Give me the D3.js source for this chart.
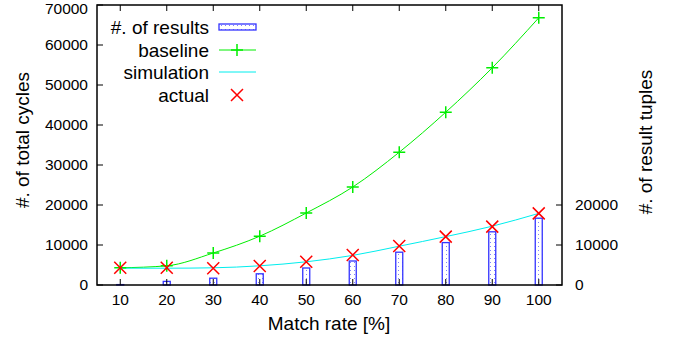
<!DOCTYPE html>
<html>
<head>
<meta charset="utf-8">
<script src="https://cdn.jsdelivr.net/npm/d3@7"></script>
<style>
  body { margin: 0; background: #fff; }
  text { font-family: "Liberation Sans", Arial, sans-serif; fill: #000; }
</style>
</head>
<body>
<div id="vis"></div>
<script>
// data
const matchRates = [10, 20, 30, 40, 50, 60, 70, 80, 90, 100];
const baseline   = [4300, 4800, 8000, 12200, 18000, 24500, 33200, 43200, 54300, 66800];
const simulation = [4200, 4200, 4300, 4800, 5800, 7400, 9700, 12100, 14700, 17900];
const actual     = [4300, 4300, 4200, 4750, 5800, 7500, 9750, 12100, 14600, 17900];
const results    = [100, 900, 1700, 2800, 4250, 6000, 8200, 10600, 13300, 16700];
const leftTicks  = [0, 10000, 20000, 30000, 40000, 50000, 60000, 70000];
const rightTicks = [0, 10000, 20000];

const W = 676, H = 339;
const margin = { left: 97, right: 114, top: 5, bottom: 54 };
const pw = W - margin.left - margin.right;
const ph = H - margin.top - margin.bottom;

const svg = d3.select("#vis").append("svg")
  .attr("width", W).attr("height", H);

// dotted fill for bars
const pat = svg.append("defs").append("pattern")
  .attr("id", "dots").attr("patternUnits", "userSpaceOnUse")
  .attr("width", 4).attr("height", 4);
pat.append("rect").attr("width", 4).attr("height", 4).attr("fill", "#fff");
pat.append("rect").attr("x", 1).attr("y", 1).attr("width", 1).attr("height", 1).attr("fill", "#8080ff");

const g = svg.append("g").attr("transform", `translate(${margin.left},${margin.top})`);

const x = d3.scaleLinear().domain([5, 105]).range([0, pw]);
const y = d3.scaleLinear().domain([0, 70000]).range([ph, 0]);
const y2 = d3.scaleLinear().domain([0, 70000]).range([ph, 0]);

// bars
const bw = 7;
g.selectAll(".bar").data(results).enter().append("rect")
  .attr("class", "bar")
  .attr("x", (d, i) => x(matchRates[i]) - bw / 2)
  .attr("y", d => y2(d))
  .attr("width", bw)
  .attr("height", d => ph - y2(d))
  .attr("fill", "url(#dots)")
  .attr("stroke", "#3333ff")
  .attr("stroke-width", 1.3);

// baseline line
g.append("path").datum(baseline)
  .attr("d", d3.line().x((d, i) => x(matchRates[i])).y(d => y(d)).curve(d3.curveMonotoneX))
  .attr("fill", "none").attr("stroke", "#00ee00").attr("stroke-width", 1);

// simulation line
g.append("path").datum(simulation)
  .attr("d", d3.line().x((d, i) => x(matchRates[i])).y(d => y(d)).curve(d3.curveMonotoneX))
  .attr("fill", "none").attr("stroke", "#00eeee").attr("stroke-width", 1);

// markers
function plus(sel, cx, cy, s) {
  sel.append("path")
    .attr("d", `M${cx - s},${cy}H${cx + s}M${cx},${cy - s}V${cy + s}`)
    .attr("stroke", "#00ee00").attr("stroke-width", 1.5).attr("fill", "none");
}
function cross(sel, cx, cy, s) {
  sel.append("path")
    .attr("d", `M${cx - s},${cy - s}L${cx + s},${cy + s}M${cx - s},${cy + s}L${cx + s},${cy - s}`)
    .attr("stroke", "#ff0000").attr("stroke-width", 1.5).attr("fill", "none");
}
baseline.forEach((d, i) => plus(g, x(matchRates[i]), y(d), 6));
actual.forEach((d, i) => cross(g, x(matchRates[i]), y(d), 6));

// ticks (gnuplot style, inward)
const tk = 6;
const ticks = g.append("g").attr("stroke", "#000").attr("stroke-width", 1);
leftTicks.forEach(t => {
  ticks.append("line").attr("x1", 0).attr("x2", tk).attr("y1", y(t)).attr("y2", y(t));
});
rightTicks.forEach(t => {
  ticks.append("line").attr("x1", pw).attr("x2", pw - tk).attr("y1", y2(t)).attr("y2", y2(t));
});
matchRates.forEach(m => {
  ticks.append("line").attr("x1", x(m)).attr("x2", x(m)).attr("y1", ph).attr("y2", ph - tk);
  ticks.append("line").attr("x1", x(m)).attr("x2", x(m)).attr("y1", 0).attr("y2", tk);
});

// tick labels (top one nudged down so it stays inside the page)
g.selectAll(".ly").data(leftTicks).enter().append("text")
  .attr("x", -9).attr("y", d => Math.max(y(d), 4)).attr("dy", "0.35em")
  .attr("text-anchor", "end").style("font-size", "15.5px").text(d => d);
g.selectAll(".ry").data(rightTicks).enter().append("text")
  .attr("x", pw + 13).attr("y", d => y2(d)).attr("dy", "0.35em")
  .attr("text-anchor", "start").style("font-size", "15.5px").text(d => d);
g.selectAll(".lx").data(matchRates).enter().append("text")
  .attr("x", d => x(d)).attr("y", ph + 15).attr("dy", "0.35em")
  .attr("text-anchor", "middle").style("font-size", "15.5px").text(d => d);

// border
g.append("rect").attr("width", pw).attr("height", ph)
  .attr("fill", "none").attr("stroke", "#000").attr("stroke-width", 1.5);

// axis titles
svg.append("text").attr("x", 329).attr("y", 323).attr("dy", "0.35em")
  .attr("text-anchor", "middle").style("font-size", "19px").text("Match rate [%]");
svg.append("text").attr("transform", "translate(22,140) rotate(-90)").attr("dy", "0.35em")
  .attr("text-anchor", "middle").style("font-size", "19px").text("#. of total cycles");
svg.append("text").attr("transform", "translate(645,142) rotate(-90)").attr("dy", "0.35em")
  .attr("text-anchor", "middle").style("font-size", "19px").text("#. of result tuples");

// legend
const legendNames = ["#. of results", "baseline", "simulation", "actual"];
const legendY = [27, 50, 72, 95];
const lg = svg.append("g");
legendNames.forEach((n, i) => {
  lg.append("text").attr("x", 209).attr("y", legendY[i]).attr("dy", "0.35em")
    .attr("text-anchor", "end").style("font-size", "19px").text(n);
});
lg.append("rect").attr("x", 219).attr("y", legendY[0] - 3).attr("width", 37).attr("height", 6)
  .attr("fill", "url(#dots)").attr("stroke", "#3333ff").attr("stroke-width", 1.3);
lg.append("line").attr("x1", 219).attr("x2", 256).attr("y1", legendY[1]).attr("y2", legendY[1])
  .attr("stroke", "#00ee00");
plus(lg, 237, legendY[1], 6);
lg.append("line").attr("x1", 219).attr("x2", 256).attr("y1", legendY[2]).attr("y2", legendY[2])
  .attr("stroke", "#00eeee");
cross(lg, 237, legendY[3], 6);
</script>
</body>
</html>
